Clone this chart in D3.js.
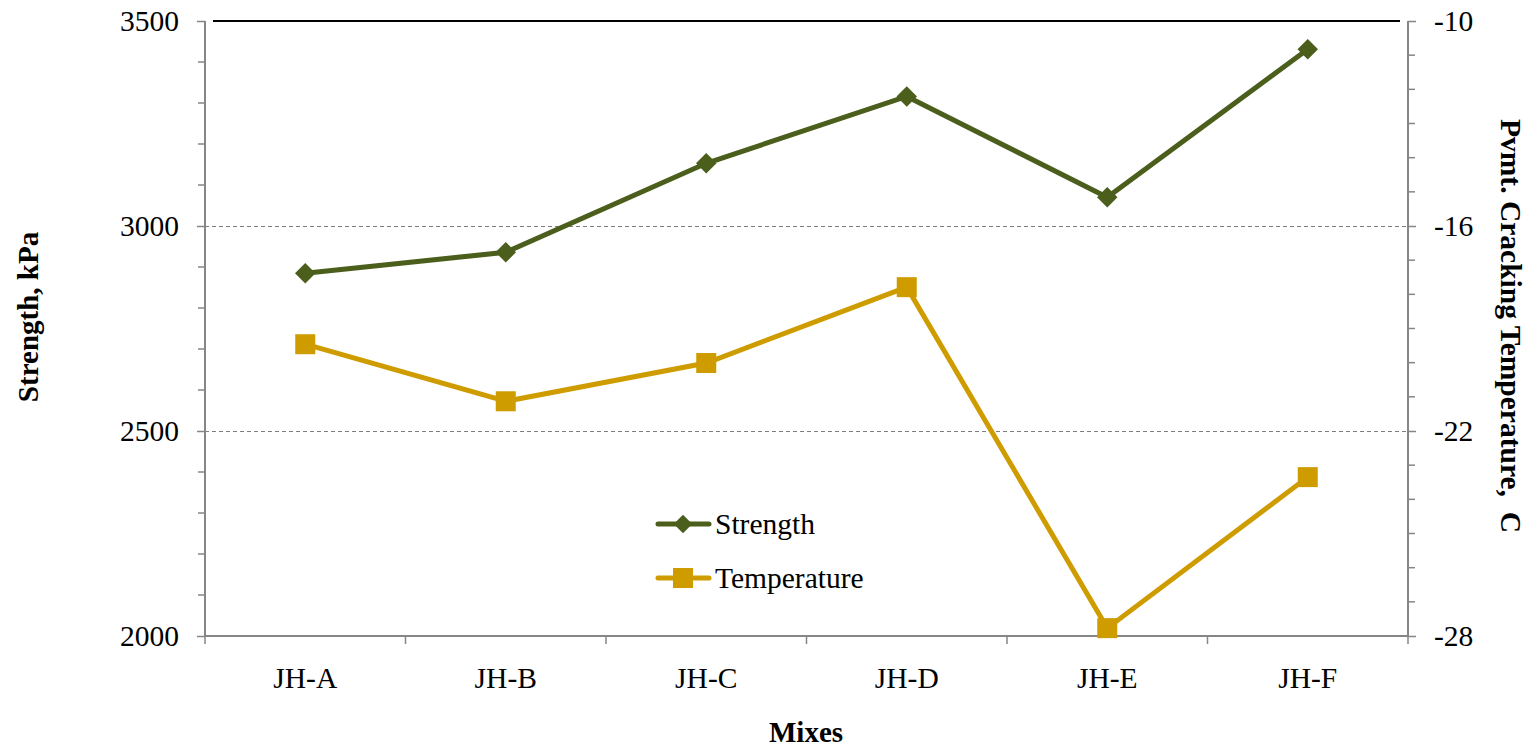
<!DOCTYPE html>
<html>
<head>
<meta charset="utf-8">
<script src="https://cdn.jsdelivr.net/npm/d3@7/dist/d3.min.js"></script>
<style>
  html, body { margin: 0; padding: 0; background: #fff; }
  svg { display: block; }
  text { font-family: "Liberation Serif", "Times New Roman", serif; fill: #000; }
</style>
</head>
<body>
<svg id="chart" width="1534" height="748"></svg>
<script>
// Mix labels and measured values
const mixes = ["JH-A", "JH-B", "JH-C", "JH-D", "JH-E", "JH-F"];
const strength = [2885, 2936, 3153, 3316, 3070, 3431];          // kPa
const temperature = [-19.46, -21.13, -20.01, -17.79, -27.77, -23.35]; // °C
const strengthTicks = [2000, 2500, 3000, 3500];
const tempTicks = [-28, -22, -16, -10];

const svg = d3.select("#chart");
const L = 205, R = 1408, T = 21, B = 636;
const axisColor = "#868686";
const cStrength = "#4B5E1C";
const cTemp = "#CF9C00";
const fmt = d => String(d);   // plain hyphen-minus, no thousands separator

const x = d3.scaleBand().domain(mixes).range([L, R]);
const yL = d3.scaleLinear().domain([2000, 3500]).range([B, T]);
const yR = d3.scaleLinear().domain([-28, -10]).range([B, T]);

// dashed gridlines
svg.append("g").selectAll("line")
  .data(strengthTicks.filter(d => d > 2000 && d < 3500))
  .join("line")
  .attr("x1", L).attr("x2", R)
  .attr("y1", d => Math.round(yL(d)) + 0.5).attr("y2", d => Math.round(yL(d)) + 0.5)
  .attr("stroke", "#7f7f7f").attr("stroke-width", 1.2)
  .attr("stroke-dasharray", "4,3");

// top frame line
svg.append("line")
  .attr("x1", L + 8).attr("x2", R - 8)
  .attr("y1", T).attr("y2", T)
  .attr("stroke", "#000").attr("stroke-width", 2);

// left axis
const leftAxis = d3.axisLeft(yL).tickValues(strengthTicks).tickFormat(fmt).tickSize(8).tickPadding(18);
const gL = svg.append("g").attr("transform", `translate(${L},0)`).call(leftAxis);
svg.append("g").selectAll("line")
  .data(d3.range(2000, 3501, 100).filter(v => v % 500 !== 0))
  .join("line")
  .attr("x1", L - 7).attr("x2", L)
  .attr("y1", d => yL(d)).attr("y2", d => yL(d))
  .attr("stroke", axisColor).attr("stroke-width", 1.5);

// right axis
const rightAxis = d3.axisRight(yR).tickValues(tempTicks).tickFormat(fmt).tickSize(8).tickPadding(18);
const gR = svg.append("g").attr("transform", `translate(${R},0)`).call(rightAxis);
svg.append("g").selectAll("line")
  .data(d3.range(-28, -9, 1).filter(v => (v + 28) % 6 !== 0))
  .join("line")
  .attr("x1", R).attr("x2", R + 7)
  .attr("y1", d => yR(d)).attr("y2", d => yR(d))
  .attr("stroke", axisColor).attr("stroke-width", 1.5);

// bottom axis
const bottomAxis = d3.axisBottom(x).tickSize(0).tickPadding(31);
const gB = svg.append("g").attr("transform", `translate(0,${B})`).call(bottomAxis);
svg.append("g").selectAll("line")
  .data(d3.range(0, mixes.length + 1))
  .join("line")
  .attr("x1", i => L + i * x.step()).attr("x2", i => L + i * x.step())
  .attr("y1", B).attr("y2", B + 8)
  .attr("stroke", axisColor).attr("stroke-width", 1.5);

[gL, gR, gB].forEach(g => {
  g.select(".domain").attr("stroke", axisColor).attr("stroke-width", 2);
  g.selectAll(".tick line").attr("stroke", axisColor).attr("stroke-width", 1.5);
  g.selectAll("text")
    .style("font-family", '"Liberation Serif", "Times New Roman", serif')
    .style("font-size", "29.5px").attr("fill", "#000");
});
gL.select(".domain").attr("d", `M0,${T}V${B}`);
gR.select(".domain").attr("d", `M0,${T}V${B}`);
gB.select(".domain").attr("d", `M${L},0H${R}`);

// series lines
const cx = d => x(d) + x.bandwidth() / 2;
svg.append("path")
  .datum(mixes.map((m, i) => [cx(m), yL(strength[i])]))
  .attr("d", d3.line())
  .attr("fill", "none").attr("stroke", cStrength).attr("stroke-width", 5);
svg.append("path")
  .datum(mixes.map((m, i) => [cx(m), yR(temperature[i])]))
  .attr("d", d3.line())
  .attr("fill", "none").attr("stroke", cTemp).attr("stroke-width", 5);

// markers
const diamond = d3.symbol().type(d3.symbolSquare).size(210);
svg.append("g").selectAll("path")
  .data(mixes)
  .join("path")
  .attr("d", diamond)
  .attr("transform", (m, i) => `translate(${cx(m)},${yL(strength[i])}) rotate(45)`)
  .attr("fill", cStrength);
svg.append("g").selectAll("rect")
  .data(mixes)
  .join("rect")
  .attr("x", m => cx(m) - 10)
  .attr("y", (m, i) => yR(temperature[i]) - 10)
  .attr("width", 20).attr("height", 20)
  .attr("fill", cTemp);

// legend
const legend = [
  { name: "Strength", color: cStrength, y: 524, shape: "diamond" },
  { name: "Temperature", color: cTemp, y: 578, shape: "square" }
];
const lg = svg.append("g");
legend.forEach(l => {
  lg.append("line")
    .attr("x1", 658).attr("x2", 709).attr("y1", l.y).attr("y2", l.y)
    .attr("stroke", l.color).attr("stroke-width", 5).attr("stroke-linecap", "round");
  if (l.shape === "diamond") {
    lg.append("path").attr("d", d3.symbol().type(d3.symbolSquare).size(170))
      .attr("transform", `translate(683,${l.y}) rotate(45)`).attr("fill", l.color);
  } else {
    lg.append("rect").attr("x", 673).attr("y", l.y - 10).attr("width", 20).attr("height", 20)
      .attr("fill", l.color);
  }
  lg.append("text").attr("x", 715).attr("y", l.y + 10)
    .style("font-size", "29.5px").text(l.name);
});

// axis titles
svg.append("text")
  .attr("transform", `translate(38,317) rotate(-90)`)
  .attr("text-anchor", "middle")
  .style("font-size", "29px").style("font-weight", "bold")
  .text("Strength, kPa");
svg.append("text")
  .attr("transform", `translate(1501,326) rotate(90)`)
  .attr("text-anchor", "middle")
  .attr("xml:space", "preserve")
  .style("white-space", "pre")
  .style("font-size", "29.5px").style("font-weight", "bold")
  .text("Pvmt. Cracking Temperature,  C");
svg.append("text")
  .attr("x", 806).attr("y", 742)
  .attr("text-anchor", "middle")
  .style("font-size", "29px").style("font-weight", "bold")
  .text("Mixes");
</script>
</body>
</html>
